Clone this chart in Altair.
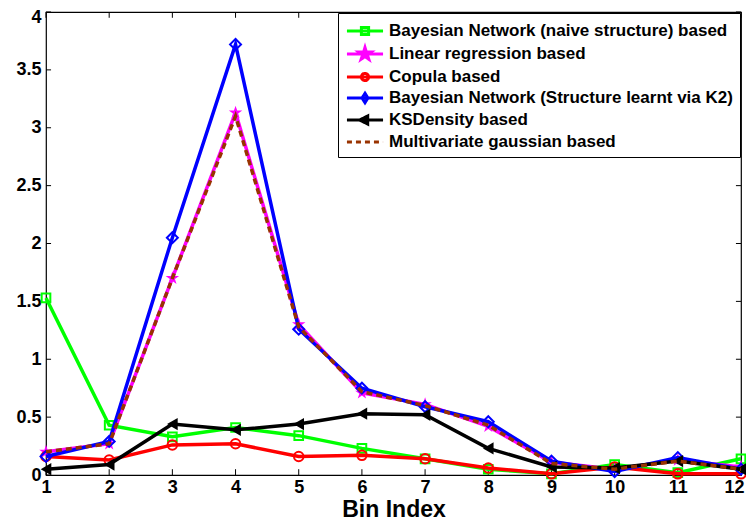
import altair as alt
import pandas as pd

bins = list(range(1, 13))
bn_naive = [1.53, 0.43, 0.33, 0.41, 0.34, 0.23, 0.14, 0.05, 0.01, 0.09, 0.02, 0.14]
lin_reg = [0.20, 0.27, 1.70, 3.13, 1.30, 0.71, 0.61, 0.42, 0.11, 0.05, 0.13, 0.07]
copula = [0.16, 0.13, 0.26, 0.27, 0.16, 0.17, 0.14, 0.06, 0.01, 0.07, 0.01, 0.01]
bn_k2 = [0.16, 0.29, 2.05, 3.72, 1.26, 0.75, 0.59, 0.46, 0.12, 0.03, 0.15, 0.05]
ksdensity = [0.05, 0.09, 0.44, 0.39, 0.44, 0.53, 0.52, 0.23, 0.07, 0.06, 0.12, 0.05]
mv_gauss = [0.20, 0.27, 1.70, 3.10, 1.28, 0.72, 0.60, 0.43, 0.10, 0.05, 0.12, 0.05]

names = [
    "Bayesian Network (naive structure) based",
    "Linear regression based",
    "Copula based",
    "Bayesian Network (Structure learnt via K2)",
    "KSDensity based",
    "Multivariate gaussian based",
]
colors = ["#00ff00", "#ff00ff", "#ff0000", "#0000ff", "#000000", "#993300"]
series_vals = [bn_naive, lin_reg, copula, bn_k2, ksdensity, mv_gauss]
y_ticks = [0, 0.5, 1, 1.5, 2, 2.5, 3, 3.5, 4]

STAR = ("M0,-1L0.2245,-0.309L0.9511,-0.309L0.3633,0.118L0.5878,0.809L0,0.382"
        "L-0.5878,0.809L-0.3633,0.118L-0.9511,-0.309L-0.2245,-0.309Z")
# marker styles: (shape, filled, size)
markers = [
    ("square", False, 75),
    (STAR, True, 200),
    ("circle", False, 90),
    ("diamond", False, 120),
    ("triangle-left", True, 150),
    None,
]

# legend symbols: line segment + marker
leg_paths = [
    "M-1.93,0H1.93M-0.385,-0.385H0.385V0.385H-0.385Z",
    "M-1.93,0H1.93M0,-0.7L0.15,-0.21L0.65,-0.21L0.25,0.07L0.41,0.56L0,0.27L-0.41,0.56L-0.25,0.07L-0.65,-0.21L-0.15,-0.21Z",
    "M-1.93,0H1.93M-0.385,0A0.385,0.385 0 1,0 0.385,0A0.385,0.385 0 1,0 -0.385,0Z",
    "M-1.93,0H1.93M0,-0.5L0.32,0L0,0.5L-0.32,0Z",
    "M-1.93,0H1.93M-0.58,0L0.29,-0.43L0.29,0.43Z",
    "M-1.93,0H1.93",
]
leg_fills = ["transparent", "#ff00ff", "transparent", "transparent", "#000000", "transparent"]
leg_dashes = [[1, 0], [1, 0], [1, 0], [1, 0], [1, 0], [5, 4]]

FONT = "Liberation Sans"

xscale = alt.Scale(domain=[1, 12], nice=False, zero=False)
yscale = alt.Scale(domain=[0, 4], nice=False)
xaxis = alt.Axis(values=bins, title="Bin Index", grid=False, domain=False, tickSize=0,
                 labelFont=FONT, labelFontSize=18, labelFontWeight="bold", labelColor="black",
                 labelPadding=3, titleFont=FONT, titleFontSize=23, titleFontWeight="bold",
                 titleColor="black", titleBaseline="alphabetic", titleY=41, labelFlush=False,
                 labelOffset={"condition": {"test": "datum.value === 12", "value": -7}, "value": 0})
yaxis = alt.Axis(values=y_ticks, title=None, grid=False, domain=False, tickSize=0, format="~g",
                 labelFont=FONT, labelFontSize=18, labelFontWeight="bold", labelColor="black",
                 labelPadding=5, labelFlush=False,
                 labelOffset={"condition": {"test": "datum.value === 4", "value": 5}, "value": 0})

legend = alt.Legend(
    title=None, orient="none", legendX=292, legendY=1,
    labelFont=FONT, labelFontSize=17, labelFontWeight="bold", labelColor="black",
    labelLimit=500, strokeColor="black", fillColor="white", padding=7,
    symbolSize=350, symbolStrokeWidth=3, symbolOpacity=1, rowPadding=0,
    symbolOffset=9, labelOffset=13,
)

layers = []
# inward ticks (box style)
df_xt = pd.DataFrame({"bin": bins})
df_yt = pd.DataFrame({"yt": y_ticks})
for lo, hi in [("0", "0.05"), ("4", "3.95")]:
    layers.append(
        alt.Chart(df_xt).transform_calculate(a=lo, b=hi).mark_rule(color="black", strokeWidth=1).encode(
            x=alt.X("bin:Q", scale=xscale, axis=xaxis),
            y=alt.Y("a:Q", scale=yscale, axis=yaxis),
            y2="b:Q",
        )
    )
for lo, hi in [("1", "1.08"), ("12", "11.92")]:
    layers.append(
        alt.Chart(df_yt).transform_calculate(a=lo, b=hi).mark_rule(color="black", strokeWidth=1).encode(
            x=alt.X("a:Q", scale=xscale, axis=xaxis),
            x2="b:Q",
            y=alt.Y("yt:Q", scale=yscale, axis=yaxis),
        )
    )

for name, vals, col, mk in zip(names, series_vals, colors, markers):
    df = pd.DataFrame({"bin": bins, "value": vals})
    enc = dict(
        x=alt.X("bin:Q", scale=xscale, axis=xaxis),
        y=alt.Y("value:Q", scale=yscale, axis=yaxis),
    )
    if mk is None:
        layers.append(alt.Chart(df).mark_line(strokeWidth=3.5, strokeDash=[6, 4], color=col).encode(**enc))
    else:
        layers.append(alt.Chart(df).mark_line(strokeWidth=3.5, color=col).encode(**enc))
        shape, filled, size = mk
        layers.append(
            alt.Chart(df).mark_point(shape=shape, filled=filled, size=size, strokeWidth=2,
                                     opacity=1, color=col).encode(**enc)
        )

# legend-only layer (no visible marks)
df_leg = pd.DataFrame({"series": names})
layers.append(
    alt.Chart(df_leg).transform_filter("false").mark_point(opacity=1).encode(
        x=alt.X("bin:Q", scale=xscale, axis=xaxis),
        y=alt.Y("value:Q", scale=yscale, axis=yaxis),
        stroke=alt.Stroke("series:N", scale=alt.Scale(domain=names, range=colors), legend=legend),
        fill=alt.Fill("series:N", scale=alt.Scale(domain=names, range=leg_fills), legend=legend),
        shape=alt.Shape("series:N", scale=alt.Scale(domain=names, range=leg_paths), legend=legend),
        strokeDash=alt.StrokeDash("series:N", scale=alt.Scale(domain=names, range=leg_dashes), legend=legend),
    )
)

chart = alt.layer(*layers).properties(
    width=695, height=463,
    autosize=alt.AutoSizeParams(type="none"),
    padding={"left": 38, "top": 4, "right": 5, "bottom": 45},
    background="white",
).configure_view(stroke="black", strokeWidth=1.2)

chart.save("out.html", embed_options={"renderer": "svg", "actions": False})
